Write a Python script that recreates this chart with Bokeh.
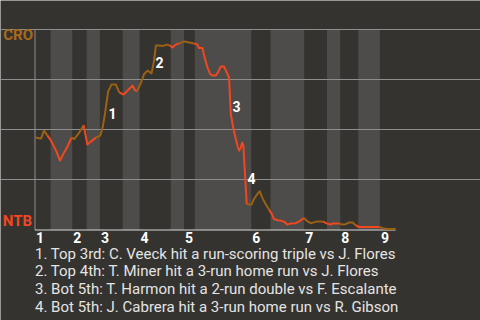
from bokeh.plotting import figure
from bokeh.models import Range1d, FixedTicker, Grid
from bokeh.core.properties import value
from bokeh.embed import file_html
from bokeh.resources import INLINE

# ---- game data -------------------------------------------------------------
away_team = "CRO"
home_team = "NTB"
innings = ["1", "2", "3", "4", "5", "6", "7", "8", "9"]

# pitch number at which each half-inning starts (top 1, bot 1, top 2, ...)
half_starts = [0, 13, 31, 43, 54, 73, 87, 113, 124, 133, 180, 196, 224, 243, 254, 269, 287]
last_pitch = 300

# away-team win probability, sampled along the game (pitch number)
pitch = [0, 3.3, 5.0, 7.5, 10.4, 13.3, 17.5, 20.8, 24.3, 27.4, 30.3, 32.7, 36.8, 40.5,
         43.6, 46.5, 50.7, 54.3, 56.3, 58.2, 60.9, 63.7, 67.3, 70.1, 73.7, 77.5, 81.2,
         83.1, 84.8, 87.5, 90.8, 93.7, 97.0, 99.1, 100.6, 103.3, 106.1, 110.3, 112.4,
         114.4, 117.2, 119.9, 124.1, 128.2, 132.4, 135.2, 136.5, 139.4, 140.7, 143.5,
         145.7, 147.7, 150.4, 152.3, 154.6, 157.3, 159.6, 161.5, 162.3, 162.9, 165.1,
         167.0, 168.7, 169.9, 171.2, 172.4, 173.4, 174.1, 175.3, 176.2, 180.1, 182.2,
         185.3, 187.0, 189.5, 192.0, 194.7, 196.9, 198.8, 201.9, 204.4, 207.1, 209.9,
         212.7, 216.9, 219.6, 223.8, 226.6, 229.4, 232.1, 234.9, 239.3, 243.2, 246.0,
         247.6, 253.0, 255.9, 258.4, 261.2, 264.3, 266.7, 269.5, 279.2, 286.7, 289.2,
         293.1, 300.0]
win_prob = [0.457, 0.454, 0.452, 0.492, 0.467, 0.442, 0.392, 0.342, 0.383, 0.417, 0.457,
            0.450, 0.482, 0.519, 0.422, 0.437, 0.457, 0.467, 0.508, 0.575, 0.688, 0.722,
            0.722, 0.683, 0.672, 0.695, 0.717, 0.695, 0.688, 0.722, 0.775, 0.792, 0.778,
            0.842, 0.917, 0.917, 0.915, 0.922, 0.917, 0.908, 0.922, 0.928, 0.938, 0.933,
            0.928, 0.922, 0.905, 0.905, 0.867, 0.808, 0.775, 0.767, 0.767, 0.783, 0.812,
            0.812, 0.783, 0.755, 0.658, 0.577, 0.502, 0.452, 0.412, 0.392, 0.407, 0.432,
            0.417, 0.342, 0.217, 0.124, 0.122, 0.150, 0.177, 0.189, 0.152, 0.124, 0.097,
            0.077, 0.050, 0.044, 0.042, 0.037, 0.022, 0.028, 0.029, 0.037, 0.055, 0.039,
            0.029, 0.033, 0.038, 0.038, 0.027, 0.022, 0.028, 0.028, 0.022, 0.024, 0.032,
            0.032, 0.019, 0.010, 0.010, 0.010, 0.004, 0.0, 0.0]

# key plays
event_pitch = [59.5, 98.6, 162.7, 175.2]
event_wp_before = [0.467, 0.778, 0.755, 0.417]
event_wp_after = [0.722, 0.917, 0.500, 0.122]
event_text = [
    "1. Top 3rd: C. Veeck hit a run-scoring triple vs J. Flores",
    "2. Top 4th: T. Miner hit a 3-run home run vs J. Flores",
    "3. Bot 5th: T. Harmon hit a 2-run double vs F. Escalante",
    "4. Bot 5th: J. Cabrera hit a 3-run home run vs R. Gibson",
]

# ---- styling ---------------------------------------------------------------
BG = "#35332f"
BAND = "#4d4c4a"
GRID = "#8e8e8e"
AWAY = "#9c6214"
HOME = "#f2471f"
TEXT = "#e4e4e4"
FONT = value("Roboto")

W, H = 480, 320
PX_LEFT, PX_PER_PITCH = 34.5, 360.5 / 300   # canvas pixel of pitch 0, scale
PX_ZERO, PX_PER_UNIT = 228.5, 200.0          # canvas pixel of probability 0, scale

x_range = Range1d(-PX_LEFT / PX_PER_PITCH, (W - PX_LEFT) / PX_PER_PITCH)
y_range = Range1d((PX_ZERO - H) / PX_PER_UNIT, PX_ZERO / PX_PER_UNIT)

p = figure(width=W, height=H, x_range=x_range, y_range=y_range,
           x_axis_type=None, y_axis_type=None, toolbar_location=None,
           output_backend="svg", min_border=0)
p.background_fill_color = BG
p.border_fill_color = BG
p.outline_line_color = None
p.grid.visible = False

# shaded bottom halves
bot_left = half_starts[1::2]
bot_right = half_starts[2::2]
p.quad(left=bot_left, right=bot_right, bottom=-0.005, top=1.0,
       fill_color=BAND, line_color=None, level="underlay")

grid = Grid(dimension=1, ticker=FixedTicker(ticks=[0.25, 0.5, 0.75, 1.0]),
            bounds=(0, last_pitch), grid_line_color=GRID, grid_line_width=1)
p.add_layout(grid, "center")

# frame lines
p.segment(x0=[0], y0=[-0.005], x1=[0], y1=[1.0], line_color=GRID, line_width=1)
p.segment(x0=[0], y0=[-0.005], x1=[last_pitch], y1=[-0.005], line_color="#d8d8d8", line_width=1)


def half_index(x):
    idx = 0
    for i, s in enumerate(half_starts):
        if x > s:
            idx = i
    return idx


# win probability line, coloured by the batting team
xs, ys, cols = [], [], []
cur_x, cur_y, cur_c = [pitch[0]], [win_prob[0]], None
for i in range(1, len(pitch)):
    c = AWAY if half_index(pitch[i]) % 2 == 0 else HOME
    if cur_c is not None and c != cur_c:
        xs.append(cur_x); ys.append(cur_y); cols.append(cur_c)
        cur_x, cur_y = [pitch[i - 1]], [win_prob[i - 1]]
    cur_c = c
    cur_x.append(pitch[i]); cur_y.append(win_prob[i])
xs.append(cur_x); ys.append(cur_y); cols.append(cur_c)
p.multi_line(xs=xs, ys=ys, line_color=cols, line_width=2, line_join="round")

# play markers
ev_y = [(a + b) / 2 for a, b in zip(event_wp_before, event_wp_after)]
p.text(x=event_pitch, y=ev_y, text=[str(i + 1) for i in range(len(event_pitch))],
       text_font=FONT, text_font_style="bold", text_font_size="14px",
       text_color="#ffffff", text_align="left", text_baseline="middle",
       x_offset=2, y_offset=3)

# team labels
p.text(x=[0], y=[1.0], text=[away_team], text_font=FONT, text_font_style="bold",
       text_font_size="15px", text_color="#a86a1c", text_align="right",
       text_baseline="middle", x_offset=-2, y_offset=5.5)
p.text(x=[0], y=[0.0], text=[home_team], text_font=FONT, text_font_style="bold",
       text_font_size="15px", text_color=HOME, text_align="right",
       text_baseline="middle", x_offset=-3, y_offset=-8.5)

# inning numbers
top_starts = half_starts[0::2]
p.text(x=top_starts, y=[0.0] * len(top_starts), text=innings, text_font=FONT,
       text_font_style="bold", text_font_size="14px", text_color="#ffffff",
       text_align="left", text_baseline="middle", x_offset=1, y_offset=8.5)

# play descriptions
p.text(x=[0] * len(event_text), y=[0.0] * len(event_text), text=event_text,
       text_font=FONT, text_font_size="15px", text_color=TEXT, text_align="left",
       text_baseline="middle", x_offset=0,
       y_offset=[24.8 + 17.6 * i for i in range(len(event_text))])

open("out.html", "w").write(file_html(p, INLINE))
